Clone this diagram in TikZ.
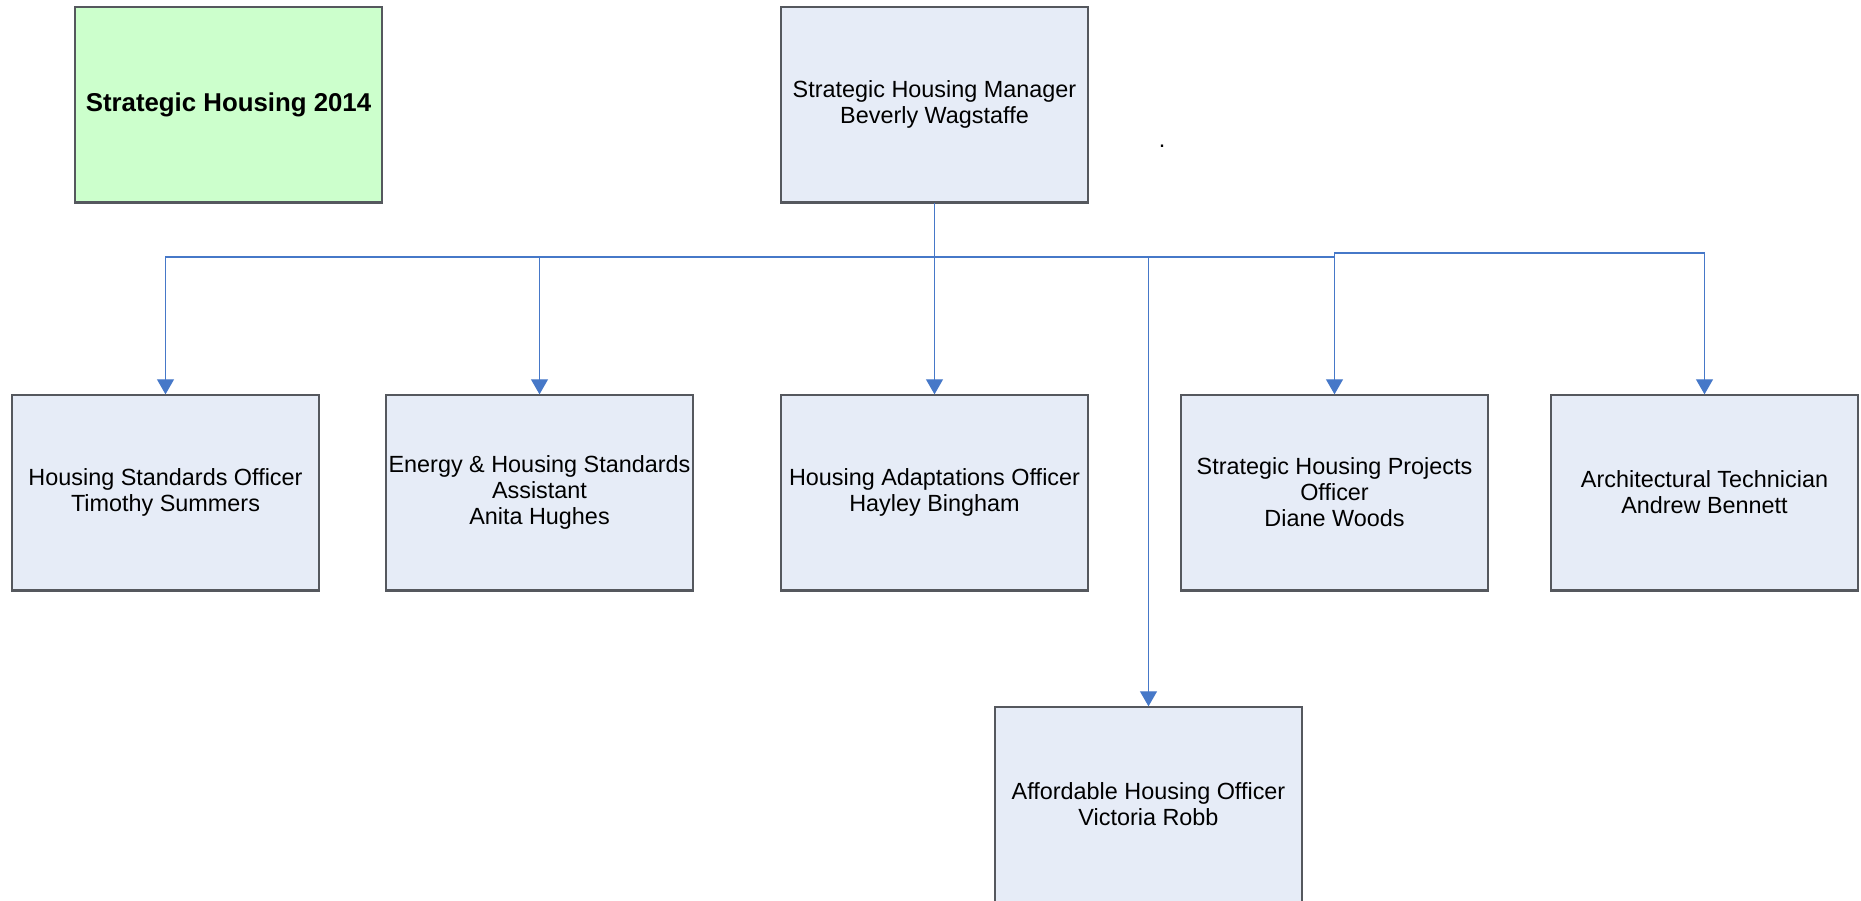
\documentclass[tikz,border=0pt]{standalone}
\usepackage{fontspec}
\setmainfont{Liberation Sans}
\usetikzlibrary{arrows.meta}
\definecolor{boxfill}{RGB}{230,236,247}
\definecolor{titlefill}{RGB}{204,255,204}
\definecolor{boxline}{RGB}{85,88,94}
\definecolor{connline}{RGB}{70,120,200}
\tikzset{
  staffbox/.style={rectangle, draw=boxline, line width=1.4pt, fill=boxfill,
    minimum width=307pt, minimum height=195pt, inner sep=0pt, align=center,
    font=\fontsize{23.4pt}{26pt}\selectfont},
  titlebox/.style={staffbox, fill=titlefill,
    font=\fontsize{25.8pt}{29pt}\selectfont\bfseries},
  conn/.style={draw=connline, line width=1.1pt},
  tip/.style={conn, -{Triangle[width=17pt,length=15pt]}},
  baseedge/.style={draw=boxline, line width=2.4pt}
}
\begin{document}
\begin{tikzpicture}[x=1pt, y=-1pt]
\useasboundingbox (0,0) rectangle (1861,900);

% title and manager
\node[titlebox] (title) at (228.5,104.5) {Strategic Housing 2014};
\node[staffbox] (mgr) at (934.5,104.5) {Strategic Housing Manager\\Beverly Wagstaffe};
\node[inner sep=0pt, font=\fontsize{23.4pt}{26.7pt}\selectfont] (dot) at (1162,146) {.};

% second row
\node[staffbox] (hso) at (165.5,492.5) {Housing Standards Officer\\Timothy Summers};
\node[staffbox] (ehs) at (539.5,492.5) {Energy \& Housing Standards\\Assistant\\Anita Hughes};
\node[staffbox] (hao) at (934.5,492.5) {Housing Adaptations Officer\\Hayley Bingham};
\node[staffbox] (shp) at (1334.5,492.5) {Strategic Housing Projects\\Officer\\Diane Woods};
\node[staffbox] (arch) at (1704.5,492.5) {Architectural Technician\\Andrew Bennett};

% third row
\node[staffbox] (aho) at (1148.5,804.5) {Affordable Housing Officer\\Victoria Robb};

% darker base edges
\foreach \n in {title,mgr,hso,ehs,hao,shp,arch}
  \draw[baseedge] (\n.south west) -- (\n.south east);

% reporting lines
\coordinate (bus) at (934.5,257);
\draw[conn] (mgr.south) -- (bus);
\draw[tip] (bus) -| (hso.north);
\draw[tip] (bus) -| (ehs.north);
\draw[tip] (bus) -- (hao.north);
\draw[tip] (bus) -| (shp.north);
\draw[tip] (bus) -| (aho.north);
\coordinate (branch) at (bus -| shp.north);
\draw[tip] (branch) -- ++(0,-4) -| (arch.north);
\end{tikzpicture}
\end{document}
